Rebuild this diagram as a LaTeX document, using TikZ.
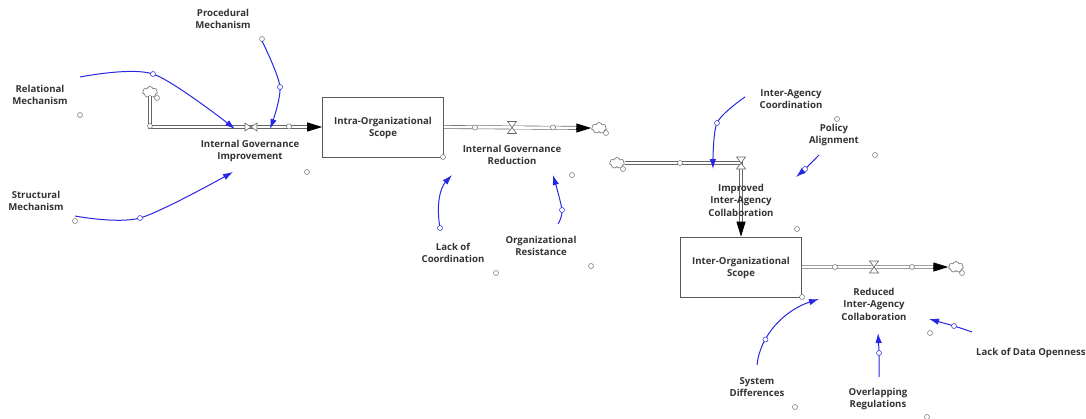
\documentclass[tikz,border=0pt]{standalone}
\usepackage{fontspec}
\setmainfont{Open Sans}
\usetikzlibrary{arrows.meta,shapes.symbols,calc}
\definecolor{linkblue}{RGB}{38,38,228}
\definecolor{txtgray}{RGB}{51,51,51}
\begin{document}
\begin{tikzpicture}[x=1pt,y=-1pt,
			lbl/.style={align=center, font=\bfseries\fontsize{9.6}{12.5}\selectfont, text=txtgray, inner sep=0pt},
			stockbox/.style={draw=black!65, line width=0.6pt, minimum width=121pt, minimum height=60pt, inner sep=0pt},
			hdl/.style={circle, draw=black!55, fill=white, line width=0.5pt, minimum size=5pt, inner sep=0pt},
			linkhdl/.style={hdl, draw=linkblue},
			pipe/.style={draw=black!60, line width=0.6pt, double=white, double distance=2.6pt, shorten >=12pt},
			flowtip/.style={black, line width=1pt, -{Triangle[length=15pt,width=9pt]}},
			valve/.style={draw=black!60, fill=white, line width=0.6pt},
			sink/.style={cloud, cloud puffs=7, draw=black!60, fill=white, line width=0.6pt, minimum width=15pt, minimum height=11pt, inner sep=0pt},
			link/.style={linkblue, line width=1pt, -{Latex[length=10pt,width=6.5pt]}}
		]
		\useasboundingbox (0,0) rectangle (1086,418);

		% stocks
		\node[stockbox] (stock1) at (383,127) {};
		\node[stockbox] (stock2) at (741,267) {};
		\node[lbl] (stock1txt) at (383,128) {Intra-Organizational\\Scope};
		\node[lbl] (stock2txt) at (741,268) {Inter-Organizational\\Scope};

		% clouds
		\node[sink] (cl1) at (150,92) {};
		\node[sink] (cl2) at (599,128) {};
		\node[sink] (cl3) at (617,163) {};
		\node[sink] (cl4) at (956,267) {};

		% pipes
		\draw[pipe] (cl1.south) |- (stock1.west);
		\draw[pipe] (stock1.east) -- (cl2.west);
		\draw[pipe] (cl3.east) -| (stock2.north);
		\draw[pipe] (stock2.east) -- (cl4.west);
		\draw[flowtip] ($(stock1.west)+(-15,0)$) -- (stock1.west);
		\draw[flowtip] ($(cl2.west)+(-15,0)$) -- (cl2.west);
		\draw[flowtip] ($(stock2.north)+(0,-15)$) -- (stock2.north);
		\draw[flowtip] ($(cl4.west)+(-15,0)$) -- (cl4.west);

		% valves
		\coordinate (v1) at (251,127);
		\coordinate (v2) at (512,127.5);
		\coordinate (v3) at (741,163);
		\coordinate (v4) at (874,267);
		\draw[valve] ($(v1)+(-6,-4)$) -- ++(0,8) -- ++(12,-8) -- ++(0,8) -- cycle;
		\foreach \v in {v2,v3,v4}
			\draw[valve] ($(\v)+(-4.5,-6)$) -- ++(9,0) -- ++(-9,12) -- ++(9,0) -- cycle;

		% small handles
		\node[hdl] (p1) at (150,126) {};
		\node[hdl] (p2) at (289,126.5) {};
		\node[hdl] (p3) at (475,127.5) {};
		\node[hdl] (p4) at (553,127.5) {};
		\node[hdl] (p5) at (680,163) {};
		\node[hdl] (p6) at (835,267) {};
		\node[hdl] (p7) at (912,267) {};
		\node[hdl] (q1) at (157,98) {};
		\node[hdl] (q2) at (606,133) {};
		\node[hdl] (q3) at (623,169) {};
		\node[hdl] (q4) at (962,273) {};
		\node[hdl] (h1) at (80,115) {};
		\node[hdl] (h2) at (75,221) {};
		\node[hdl] (h3) at (262,39) {};
		\node[hdl] (h4) at (307,172) {};
		\node[hdl] (h5) at (443,157) {};
		\node[hdl] (h6) at (496,273) {};
		\node[hdl] (h7) at (591,266) {};
		\node[hdl] (h8) at (572,175) {};
		\node[hdl] (h9) at (837,119) {};
		\node[hdl] (h10) at (875,155) {};
		\node[hdl] (h11) at (797,229) {};
		\node[hdl] (h12) at (802,297) {};
		\node[hdl] (h13) at (930,333) {};
		\node[hdl] (h14) at (795,407) {};
		\node[hdl] (h15) at (927,417) {};

		% labels
		\node[lbl] (igi) at (250,151) {Internal Governance\\Improvement};
		\node[lbl] (igr) at (512,155) {Internal Governance\\Reduction};
		\node[lbl] (iac) at (741,200) {Improved\\Inter-Agency\\Collaboration};
		\node[lbl] (ria) at (874,304) {Reduced\\Inter-Agency\\Collaboration};
		\node[lbl] (pm) at (223,19) {Procedural\\Mechanism};
		\node[lbl] (rm) at (40,95) {Relational\\Mechanism};
		\node[lbl] (sm) at (36,201) {Structural\\Mechanism};
		\node[lbl] (lc) at (453,253) {Lack of\\Coordination};
		\node[lbl] (orr) at (541,246) {Organizational\\Resistance};
		\node[lbl] (iaco) at (791,99) {Inter-Agency\\Coordination};
		\node[lbl] (pa) at (834,135) {Policy\\Alignment};
		\node[lbl] (sd) at (757,387) {System\\Differences};
		\node[lbl] (olr) at (878,399) {Overlapping\\Regulations};
		\node[lbl, anchor=west] (ldo) at (976,353) {Lack of Data Openness};

		% causal links: start, bend point, end
		\coordinate (rm0) at (80,77);    \coordinate (rmb) at (153,74);  \coordinate (rm1) at (235,129);
		\coordinate (pm0) at (262,41);   \coordinate (pmb) at (280,87);  \coordinate (pm1) at (270,129);
		\coordinate (sm0) at (75,216);   \coordinate (smb) at (140,218); \coordinate (sm1) at (233,172);
		\coordinate (or0) at (558,224);  \coordinate (orb) at (562,210); \coordinate (or1) at (553,175);
		\coordinate (ia0) at (745,97);   \coordinate (iab) at (717,123); \coordinate (ia1) at (713,169);
		\coordinate (pa0) at (819,155);  \coordinate (pab) at (805,169); \coordinate (pa1) at (796,177);
		\coordinate (ol0) at (879,377);  \coordinate (olb) at (879,353); \coordinate (ol1) at (878,333);
		\coordinate (ld0) at (972,332);  \coordinate (ldb) at (954,326); \coordinate (ld1) at (929,319);
		\foreach \k in {rm,pm,sm,or,ia,pa,ol,ld} {
			\draw[link] plot[smooth] coordinates {(\k0) (\k b) (\k1)};
			\node[linkhdl] (\k h) at (\k b) {};
		}
		\coordinate (lcb) at (440,228);  \coordinate (lc1) at (452,175);
		\draw[link] (lcb) .. controls (436,205) and (440,188) .. (lc1);
		\node[linkhdl] (lch) at (lcb) {};
		\coordinate (sd0) at (757,365);  \coordinate (sdb) at (765.5,339.5); \coordinate (sd1) at (819,299);
		\draw[link] (sd0) .. controls (760,335) and (785,310) .. (sd1);
		\node[linkhdl] (sdh) at (sdb) {};

	\end{tikzpicture}
\end{document}
